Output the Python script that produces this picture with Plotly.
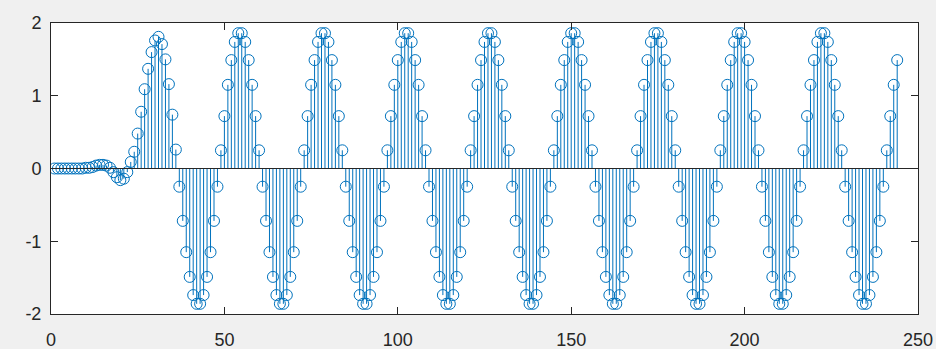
import plotly.graph_objects as go

# sample index (1..244)
n_values = list(range(1, 245))

# transient part n = 1..36
y_transient = [
    0.0, 0.0, 0.0, 0.0, 0.0, 0.0, 0.0, 0.0, 0.0, 0.01,
    0.01, 0.02, 0.04, 0.05, 0.05, 0.04, 0.01, -0.05, -0.12, -0.16,
    -0.14, -0.05, 0.09, 0.23, 0.48, 0.78, 1.09, 1.37, 1.60, 1.76,
    1.81, 1.71, 1.50, 1.16, 0.74, 0.26,
]

# steady part n = 37..244
y_steady = [
    -0.25, -0.72, -1.15, -1.49, -1.74, -1.86, -1.86, -1.74, -1.49, -1.15, -0.72, -0.25,
    0.25, 0.72, 1.15, 1.49, 1.74, 1.86, 1.86, 1.74, 1.49, 1.15, 0.72, 0.25,
    -0.25, -0.72, -1.15, -1.49, -1.74, -1.86, -1.86, -1.74, -1.49, -1.15, -0.72, -0.25,
    0.25, 0.72, 1.15, 1.49, 1.74, 1.86, 1.86, 1.74, 1.49, 1.15, 0.72, 0.25,
    -0.25, -0.72, -1.15, -1.49, -1.74, -1.86, -1.86, -1.74, -1.49, -1.15, -0.72, -0.25,
    0.25, 0.72, 1.15, 1.49, 1.74, 1.86, 1.86, 1.74, 1.49, 1.15, 0.72, 0.25,
    -0.25, -0.72, -1.15, -1.49, -1.74, -1.86, -1.86, -1.74, -1.49, -1.15, -0.72, -0.25,
    0.25, 0.72, 1.15, 1.49, 1.74, 1.86, 1.86, 1.74, 1.49, 1.15, 0.72, 0.25,
    -0.25, -0.72, -1.15, -1.49, -1.74, -1.86, -1.86, -1.74, -1.49, -1.15, -0.72, -0.25,
    0.25, 0.72, 1.15, 1.49, 1.74, 1.86, 1.86, 1.74, 1.49, 1.15, 0.72, 0.25,
    -0.25, -0.72, -1.15, -1.49, -1.74, -1.86, -1.86, -1.74, -1.49, -1.15, -0.72, -0.25,
    0.25, 0.72, 1.15, 1.49, 1.74, 1.86, 1.86, 1.74, 1.49, 1.15, 0.72, 0.25,
    -0.25, -0.72, -1.15, -1.49, -1.74, -1.86, -1.86, -1.74, -1.49, -1.15, -0.72, -0.25,
    0.25, 0.72, 1.15, 1.49, 1.74, 1.86, 1.86, 1.74, 1.49, 1.15, 0.72, 0.25,
    -0.25, -0.72, -1.15, -1.49, -1.74, -1.86, -1.86, -1.74, -1.49, -1.15, -0.72, -0.25,
    0.25, 0.72, 1.15, 1.49, 1.74, 1.86, 1.86, 1.74, 1.49, 1.15, 0.72, 0.25,
    -0.25, -0.72, -1.15, -1.49, -1.74, -1.86, -1.86, -1.74, -1.49, -1.15, -0.72, -0.25,
    0.25, 0.72, 1.15, 1.49,
]

y_values = y_transient + y_steady

x_ticks = [0, 50, 100, 150, 200, 250]
x_tick_labels = ["0", "50", "100", "150", "200", "250"]
y_ticks = [-2, -1, 0, 1, 2]
y_tick_labels = ["-2", "-1", "0", "1", "2"]

STEM_COLOR = "#0072BD"
AXIS_COLOR = "#262626"
BG = "#F0F0F0"

# stems as None-separated vertical segments
stem_x, stem_y = [], []
for xv, yv in zip(n_values, y_values):
    stem_x += [xv, xv, None]
    stem_y += [0, yv, None]

fig = go.Figure()
fig.add_trace(go.Scatter(x=stem_x, y=stem_y, mode="lines",
                         line=dict(color=STEM_COLOR, width=1),
                         hoverinfo="skip", showlegend=False))
fig.add_trace(go.Scatter(x=n_values, y=y_values, mode="markers",
                         marker=dict(symbol="circle-open", size=11,
                                     color=STEM_COLOR, line=dict(width=1)),
                         showlegend=False))
# baseline
fig.add_trace(go.Scatter(x=[0, 250], y=[0, 0], mode="lines",
                         line=dict(color=AXIS_COLOR, width=1),
                         hoverinfo="skip", showlegend=False))

axis_common = dict(showline=True, linecolor=AXIS_COLOR, linewidth=1,
                   mirror="ticks", ticks="inside", ticklen=7,
                   tickcolor=AXIS_COLOR, showgrid=False, zeroline=False,
                   tickfont=dict(family="Liberation Sans, Arial, sans-serif",
                                 size=18, color=AXIS_COLOR))

fig.update_layout(
    width=936, height=349,
    margin=dict(l=51, r=18, t=23, b=35),
    paper_bgcolor=BG, plot_bgcolor="#FFFFFF",
    xaxis=dict(range=[0, 250], tickvals=x_ticks, ticktext=x_tick_labels,
               ticklabelstandoff=9, automargin=False, **axis_common),
    yaxis=dict(range=[-2, 2], tickvals=y_ticks, ticktext=y_tick_labels,
               ticklabelstandoff=5, automargin=False, **axis_common),
)

fig.write_html(
    "out.html",
    config={"displayModeBar": False},
    post_script="document.body.style.margin='0';document.body.style.background='#F0F0F0';",
)
